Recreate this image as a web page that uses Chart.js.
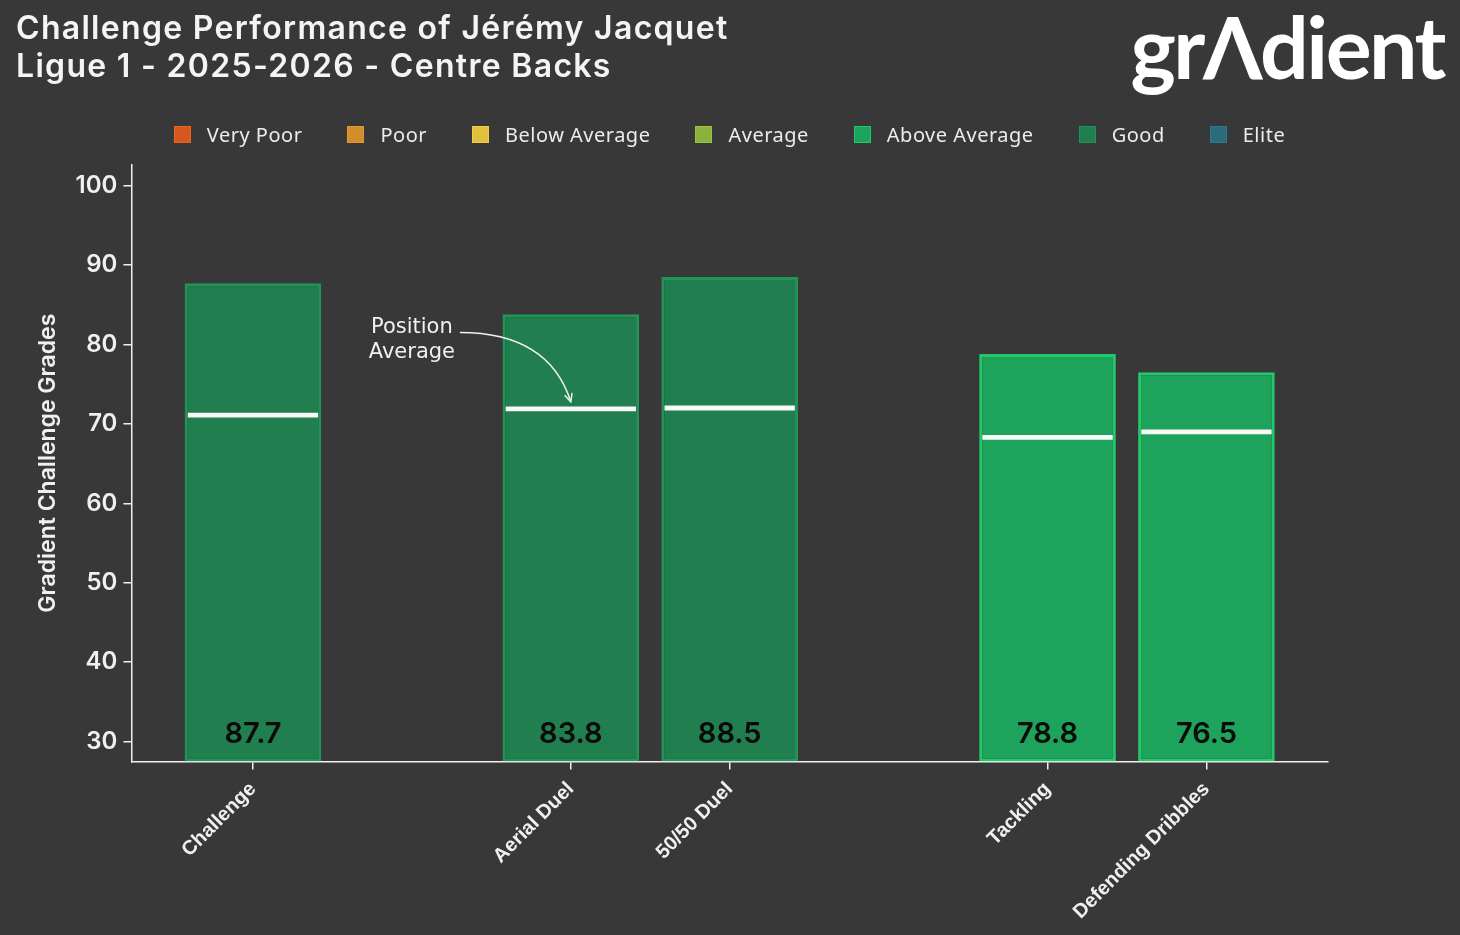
<!DOCTYPE html>
<html lang="en">
<head>
    <meta charset="UTF-8">
    <title>Challenge Performance of Jérémy Jacquet</title>
    <script src="https://cdn.jsdelivr.net/npm/chart.js"></script>
    <style>
        html, body { margin: 0; padding: 0; background: #383838; }
        .wrap { position: relative; width: 1460px; height: 935px; }
        .title {
            position: absolute; left: 16px; top: 9px;
            color: #f4f4f4; font-family: "Inter", sans-serif; font-weight: 600;
            font-size: 32px; line-height: 38px; letter-spacing: 1.3px;
        }
        .logo {
            position: absolute; right: 16px; top: -6px;
            color: #ffffff; font-family: "Lato", sans-serif; font-weight: 700;
            font-size: 86px; letter-spacing: -2.5px;
        }
        #legend {
            position: absolute; top: 121px; left: 131px; width: 1197px;
            display: flex; justify-content: center; gap: 45px;
            font-family: "Noto Sans", sans-serif; font-size: 20px; letter-spacing: 0.5px;
            color: #ececec;
        }
        #legend .item { display: flex; align-items: center; height: 26px; }
        #legend .box { width: 15px; height: 15px; margin-right: 16px; border: 1.5px solid; }
        #chart { position: absolute; left: 0; top: 0; }
    </style>
</head>
<body>
<div class="wrap">
    <canvas id="chart" width="1460" height="935"></canvas>
    <div class="title">Challenge Performance of Jérémy Jacquet<br>Ligue 1 - 2025-2026 - Centre Backs</div>
    <div class="logo">grΛdient</div>
    <div id="legend"></div>
</div>

<script>
    // chart data
    const categories = ['Challenge', 'Aerial Duel', '50/50 Duel', 'Tackling', 'Defending Dribbles'];
    const groupOf = [0, 1, 1, 2, 2];
    const grades = [87.7, 83.8, 88.5, 78.8, 76.5];
    const positionAvg = [71.1, 71.9, 72.0, 68.3, 69.0];
    const gradeTier = ['Good', 'Good', 'Good', 'Above Average', 'Above Average'];
    const tiers = ['Very Poor', 'Poor', 'Below Average', 'Average', 'Above Average', 'Good', 'Elite'];
    const yTicks = [30, 40, 50, 60, 70, 80, 90, 100];

    // colours per tier
    const tierFill = ['#d6581c', '#d08e2c', '#e0c03c', '#8bb23c', '#1da35c', '#217e4f', '#2a6c7c'];
    const tierBorder = ['#e8661e', '#e09a30', '#f0d040', '#98c240', '#22c96a', '#1f9658', '#2e7a8c'];

    // one empty slot between groups
    const slots = categories.map((c, i) => i + groupOf[i]);
    const lastSlot = slots[slots.length - 1];
    const tierIdx = gradeTier.map(t => tiers.indexOf(t));

    // legend of grade tiers
    const legend = document.getElementById('legend');
    tiers.forEach((t, i) => {
        const item = document.createElement('div');
        item.className = 'item';
        const box = document.createElement('span');
        box.className = 'box';
        box.style.background = tierFill[i];
        box.style.borderColor = tierBorder[i];
        item.appendChild(box);
        item.appendChild(document.createTextNode(t));
        legend.appendChild(item);
    });

    const valueLabels = {
        id: 'valueLabels',
        afterDatasetsDraw(chart) {
            const ctx = chart.ctx;
            const meta = chart.getDatasetMeta(1);
            ctx.save();
            ctx.fillStyle = '#0a0a0a';
            ctx.font = '600 29px Inter';
            ctx.textAlign = 'center';
            ctx.textBaseline = 'middle';
            meta.data.forEach((bar, i) => {
                ctx.fillText(grades[i].toFixed(1), bar.x, chart.chartArea.bottom - 27);
            });
            ctx.restore();
        }
    };

    const avgNote = {
        id: 'avgNote',
        afterDatasetsDraw(chart) {
            const ctx = chart.ctx;
            const x = chart.scales.x, y = chart.scales.y;
            const k = 1; // Aerial Duel
            const tx = x.getPixelForValue(slots[k] - 1);
            const ty = y.getPixelForValue(80.5);
            ctx.save();
            ctx.fillStyle = '#f0f0f0';
            ctx.font = '21px "DejaVu Sans"';
            ctx.textAlign = 'center';
            ctx.textBaseline = 'middle';
            ctx.fillText('Position', tx, ty - 13);
            ctx.fillText('Average', tx, ty + 12);
            // curved arrow
            const sx = tx + 48, sy = ty - 8;
            const ex = x.getPixelForValue(slots[k]), ey = y.getPixelForValue(positionAvg[k]) - 7;
            const cx = ex - 22, cy = sy;
            ctx.strokeStyle = '#f0f0f0';
            ctx.lineWidth = 1.5;
            ctx.beginPath();
            ctx.moveTo(sx, sy);
            ctx.quadraticCurveTo(cx, cy, ex, ey);
            ctx.stroke();
            const ang = Math.atan2(ey - cy, ex - cx);
            ctx.beginPath();
            ctx.moveTo(ex - 9 * Math.cos(ang - 0.45), ey - 9 * Math.sin(ang - 0.45));
            ctx.lineTo(ex, ey);
            ctx.lineTo(ex - 9 * Math.cos(ang + 0.45), ey - 9 * Math.sin(ang + 0.45));
            ctx.stroke();
            ctx.restore();
        }
    };

    new Chart(document.getElementById('chart'), {
        type: 'bar',
        data: {
            datasets: [
                {
                    label: 'Position Average',
                    data: positionAvg.map((v, i) => ({ x: slots[i], y: [v - 0.3, v + 0.3] })),
                    backgroundColor: '#f8f8f8',
                    borderWidth: 0,
                    grouped: false,
                    barPercentage: 0.82,
                    categoryPercentage: 1,
                    order: 0
                },
                {
                    label: 'Grade',
                    data: grades.map((v, i) => ({ x: slots[i], y: v })),
                    backgroundColor: tierIdx.map(t => tierFill[t]),
                    borderColor: tierIdx.map(t => tierBorder[t]),
                    borderWidth: 3,
                    borderSkipped: false,
                    grouped: false,
                    barPercentage: 0.86,
                    categoryPercentage: 1,
                    base: 27.5,
                    order: 1
                }
            ]
        },
        options: {
            responsive: false,
            animation: false,
            layout: { padding: { top: 165, left: 34, right: 132, bottom: 3 } },
            plugins: {
                tooltip: { enabled: false },
                legend: { display: false }
            },
            scales: {
                x: {
                    type: 'linear',
                    offset: false,
                    min: -0.765,
                    max: lastSlot + 0.765,
                    afterBuildTicks: s => { s.ticks = slots.map(v => ({ value: v })); },
                    ticks: {
                        autoSkip: false,
                        minRotation: 45,
                        maxRotation: 45,
                        padding: 8,
                        color: '#f0f0f0',
                        font: { family: 'Liberation Sans', size: 20, weight: 'bold' },
                        callback: v => categories[slots.indexOf(v)] || ''
                    },
                    grid: { offset: false, drawOnChartArea: false, color: '#f0f0f0', tickLength: 8, lineWidth: 1.5 },
                    border: { color: '#f0f0f0', width: 1.5 }
                },
                y: {
                    min: 27.5,
                    max: 102.6,
                    afterBuildTicks: s => { s.ticks = yTicks.map(v => ({ value: v })); },
                    ticks: {
                        color: '#f0f0f0',
                        padding: 6,
                        font: { family: 'Inter', size: 24, weight: '600' }
                    },
                    title: {
                        display: true,
                        text: 'Gradient Challenge Grades',
                        color: '#f0f0f0',
                        font: { family: 'Inter', size: 23, weight: '600' },
                        padding: { top: 0, bottom: 8 }
                    },
                    grid: { drawOnChartArea: false, color: '#f0f0f0', tickLength: 8, lineWidth: 1.5 },
                    border: { color: '#f0f0f0', width: 1.5 }
                }
            }
        },
        plugins: [valueLabels, avgNote]
    });
</script>
</body>
</html>
